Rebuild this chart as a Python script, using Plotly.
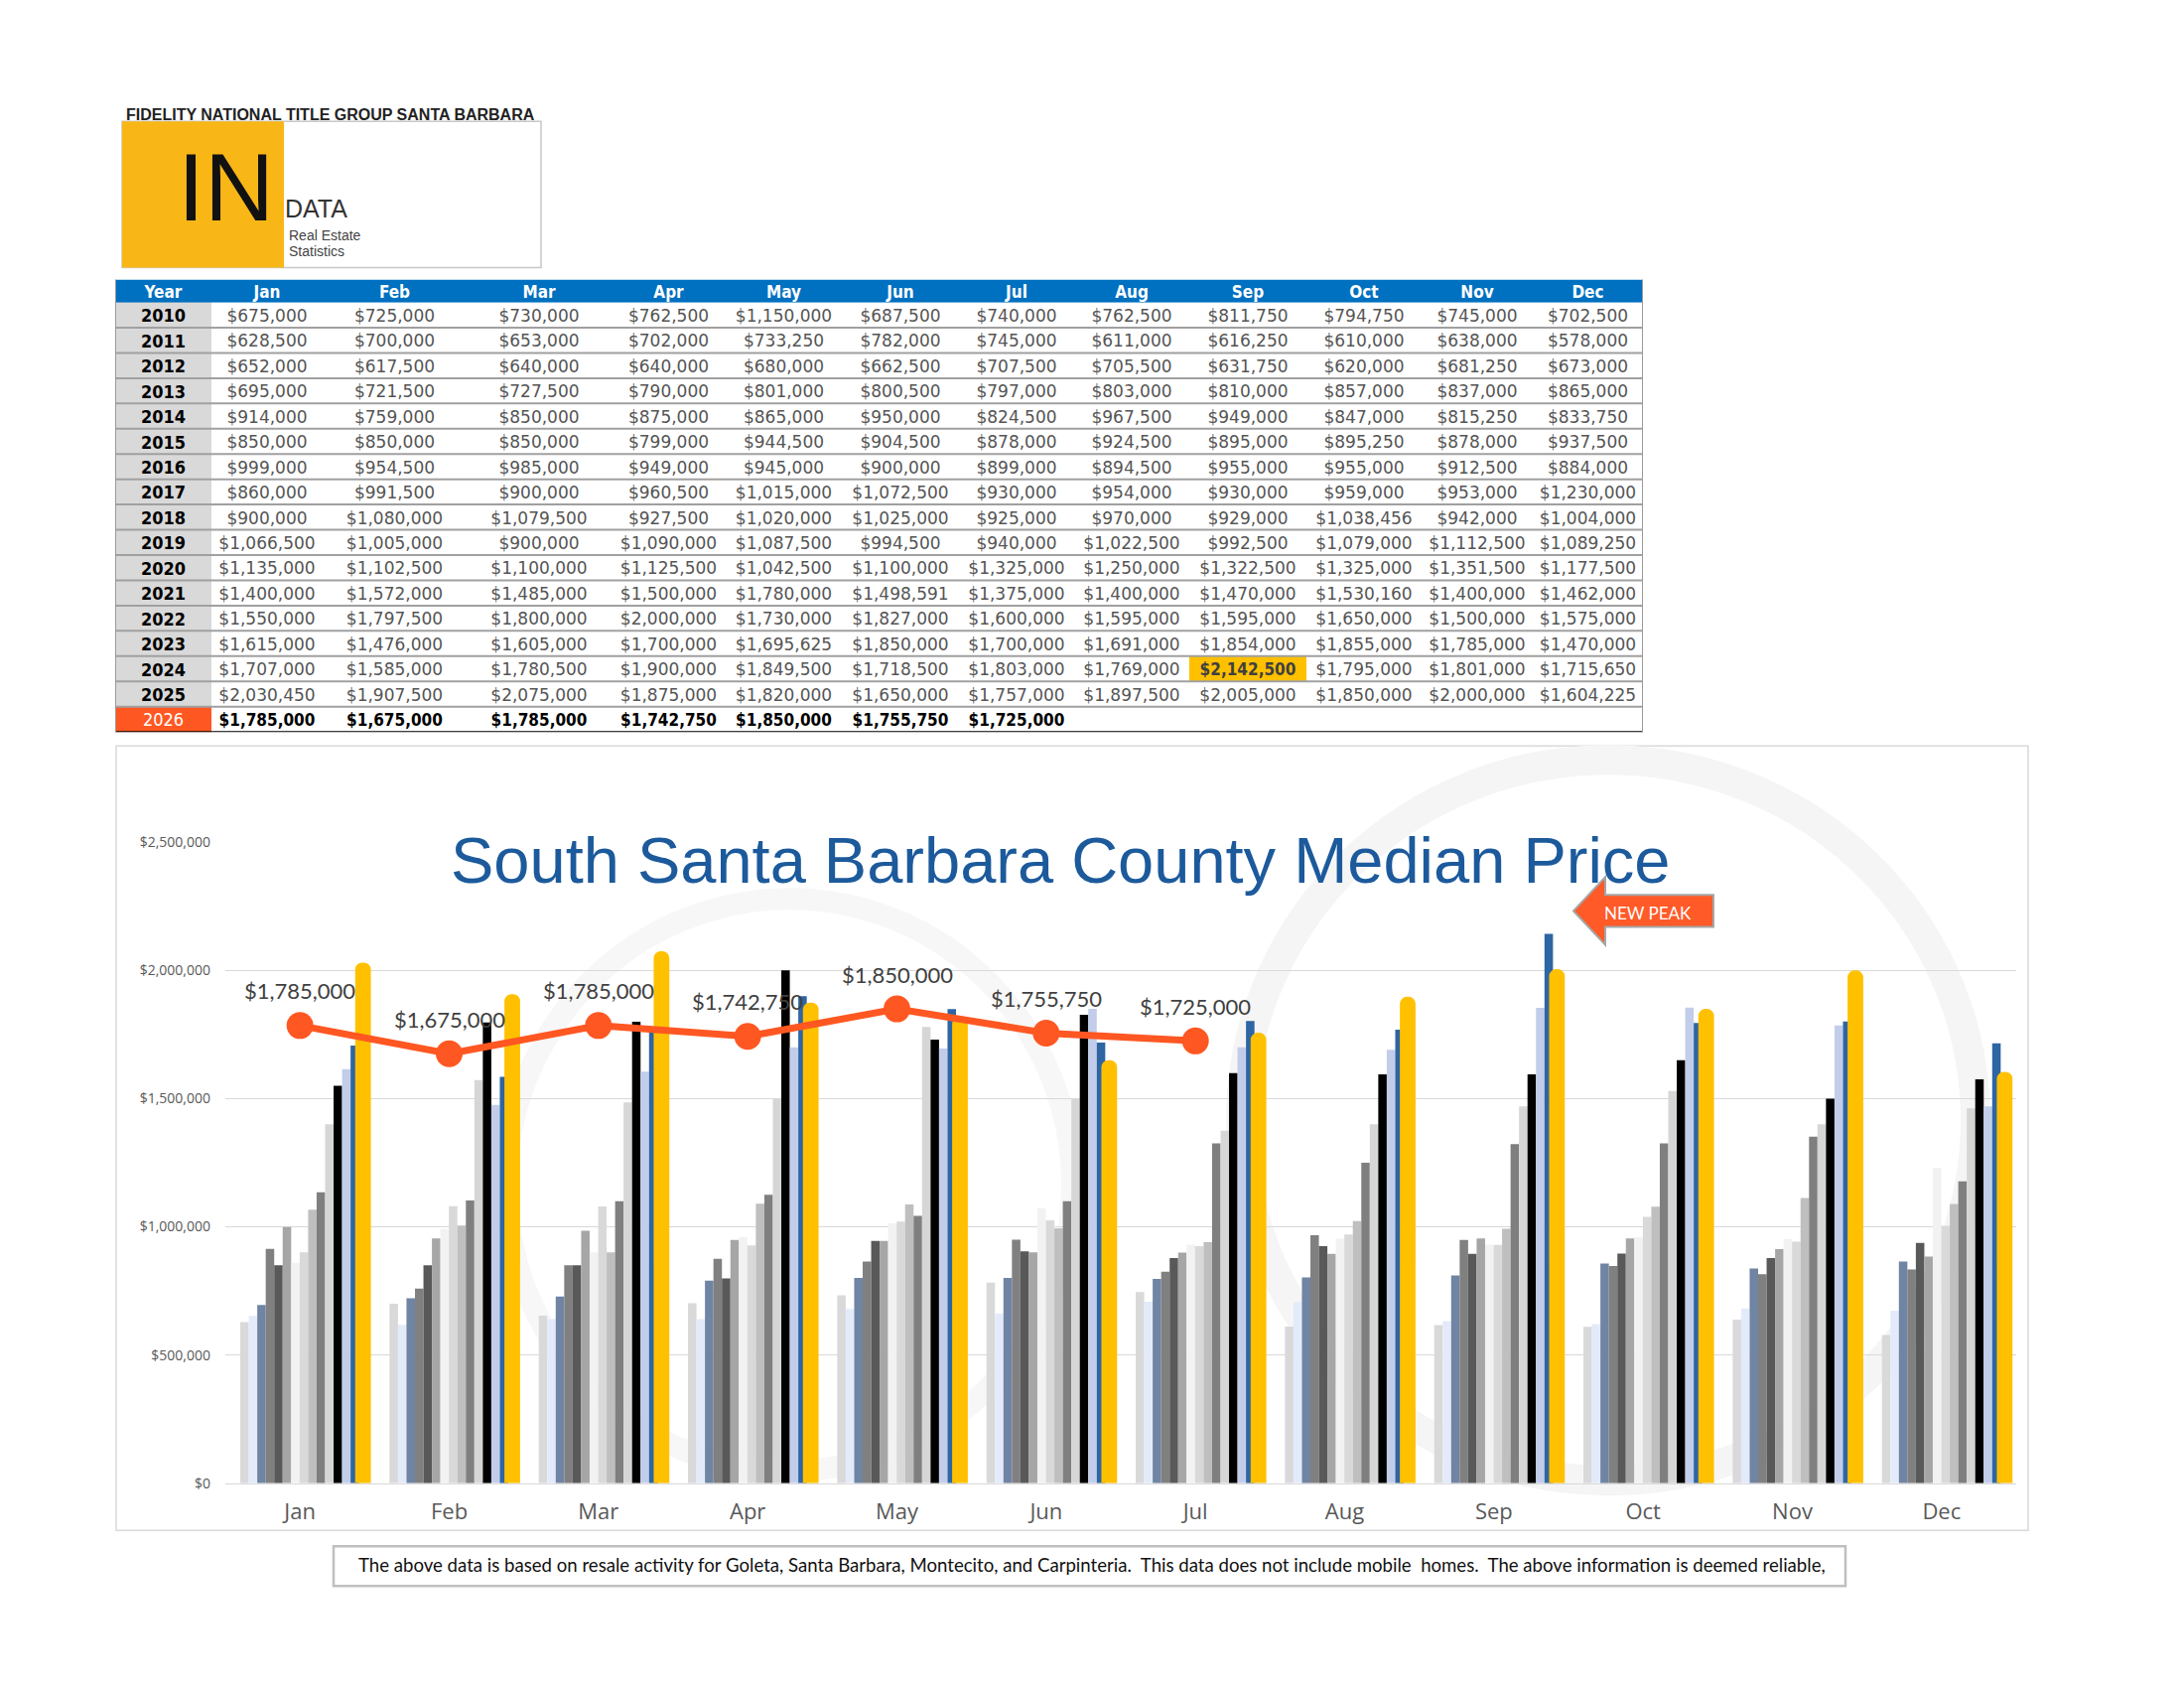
import plotly.graph_objects as go

W, H = 2200, 1700

months = ["Jan", "Feb", "Mar", "Apr", "May", "Jun", "Jul", "Aug", "Sep", "Oct", "Nov", "Dec"]
years = list(range(2010, 2027))

p2010 = [675000, 725000, 730000, 762500, 1150000, 687500, 740000, 762500, 811750, 794750, 745000, 702500]
p2011 = [628500, 700000, 653000, 702000, 733250, 782000, 745000, 611000, 616250, 610000, 638000, 578000]
p2012 = [652000, 617500, 640000, 640000, 680000, 662500, 707500, 705500, 631750, 620000, 681250, 673000]
p2013 = [695000, 721500, 727500, 790000, 801000, 800500, 797000, 803000, 810000, 857000, 837000, 865000]
p2014 = [914000, 759000, 850000, 875000, 865000, 950000, 824500, 967500, 949000, 847000, 815250, 833750]
p2015 = [850000, 850000, 850000, 799000, 944500, 904500, 878000, 924500, 895000, 895250, 878000, 937500]
p2016 = [999000, 954500, 985000, 949000, 945000, 900000, 899000, 894500, 955000, 955000, 912500, 884000]
p2017 = [860000, 991500, 900000, 960500, 1015000, 1072500, 930000, 954000, 930000, 959000, 953000, 1230000]
p2018 = [900000, 1080000, 1079500, 927500, 1020000, 1025000, 925000, 970000, 929000, 1038456, 942000, 1004000]
p2019 = [1066500, 1005000, 900000, 1090000, 1087500, 994500, 940000, 1022500, 992500, 1079000, 1112500, 1089250]
p2020 = [1135000, 1102500, 1100000, 1125500, 1042500, 1100000, 1325000, 1250000, 1322500, 1325000, 1351500, 1177500]
p2021 = [1400000, 1572000, 1485000, 1500000, 1780000, 1498591, 1375000, 1400000, 1470000, 1530160, 1400000, 1462000]
p2022 = [1550000, 1797500, 1800000, 2000000, 1730000, 1827000, 1600000, 1595000, 1595000, 1650000, 1500000, 1575000]
p2023 = [1615000, 1476000, 1605000, 1700000, 1695625, 1850000, 1700000, 1691000, 1854000, 1855000, 1785000, 1470000]
p2024 = [1707000, 1585000, 1780500, 1900000, 1849500, 1718500, 1803000, 1769000, 2142500, 1795000, 1801000, 1715650]
p2025 = [2030450, 1907500, 2075000, 1875000, 1820000, 1650000, 1757000, 1897500, 2005000, 1850000, 2000000, 1604225]
p2026 = [1785000, 1675000, 1785000, 1742750, 1850000, 1755750, 1725000]

table_rows = [p2010, p2011, p2012, p2013, p2014, p2015, p2016, p2017, p2018,
              p2019, p2020, p2021, p2022, p2023, p2024, p2025, p2026]
bar_years = [2011, 2012, 2013, 2014, 2015, 2016, 2017, 2018, 2019, 2020, 2021, 2022, 2023, 2024]
bar_series = [p2011, p2012, p2013, p2014, p2015, p2016, p2017, p2018, p2019,
              p2020, p2021, p2022, p2023, p2024]
bar_colors = ["#D9D9D9", "#E3EBFA", "#7084A3", "#808080", "#595959", "#A6A6A6", "#F2F2F2",
              "#D9D9D9", "#BFBFBF", "#7F7F7F", "#D6D6D6", "#000000", "#C2CDEA", "#2E65A3"]
highlight = (2024, "Sep")

header_labels = ["Year"] + months
col_widths = [97, 112, 145, 146, 115, 117, 118, 116, 116, 118, 116, 112, 111]


def fx(px):
    return px / W


def fy(py):
    q = 1.0127 * py - 11.0
    return 1 - q / H


def money(v):
    return "${:,.0f}".format(v)


fig = go.Figure()

# ---------------- chart bars ----------------
pitch = 8.55 / 150.4
start = -0.40
for k, (yr, vals, col) in enumerate(zip(bar_years, bar_series, bar_colors)):
    fig.add_trace(go.Bar(
        x=months, y=vals, name=str(yr), offset=start + k * pitch, width=pitch,
        marker=dict(color=col, line=dict(width=0)), hoverinfo="skip",
        xaxis="x", yaxis="y"))

fig.add_trace(go.Bar(
    x=months, y=p2025, name="2025", offset=0.37, width=0.105,
    marker=dict(color="#FFC000", line=dict(width=0), cornerradius=7), hoverinfo="skip",
    xaxis="x", yaxis="y"))

fig.add_trace(go.Scatter(
    x=months[:len(p2026)], y=p2026, name="2026", mode="lines+markers",
    line=dict(color="#FF5722", width=7),
    marker=dict(color="#FF5722", size=27),
    hoverinfo="skip", xaxis="x", yaxis="y"))

for m, v in zip(months, p2026):
    fig.add_annotation(x=m, y=v, xref="x", yref="y", text=money(v), showarrow=False,
                       yshift=35, font=dict(family="Lato, Carlito, sans-serif", size=22, color="#404040"))

# ---------------- data table ----------------
edges_x = [0]
for w_ in col_widths:
    edges_x.append(edges_x[-1] + w_)
header_h, row_h = 23, 25.4
edges_y = [0, header_h]
for _ in years:
    edges_y.append(edges_y[-1] + row_h)

text_drop = 2.5
z = [[2] * len(header_labels)]
cell_x, cell_y, cell_t, cell_c, cell_f, cell_s = [], [], [], [], [], []
cx = [(edges_x[i] + edges_x[i + 1]) / 2 for i in range(len(col_widths))]
cy = [(edges_y[i] + edges_y[i + 1]) / 2 + text_drop for i in range(len(edges_y) - 1)]
COND = "DejaVu Sans Condensed, DejaVu Sans"

for c, lab in enumerate(header_labels):
    cell_x.append(cx[c]); cell_y.append(cy[0]); cell_t.append("<b>" + lab + "</b>")
    cell_c.append("white"); cell_f.append(COND); cell_s.append(17)

last = years[-1]
for r, (yr, vals) in enumerate(zip(years, table_rows), start=1):
    zrow = [3 if yr == last else 1]
    cell_x.append(cx[0]); cell_y.append(cy[r])
    if yr == last:
        cell_t.append(str(yr)); cell_c.append("white")
    else:
        cell_t.append("<b>" + str(yr) + "</b>"); cell_c.append("#000000")
    cell_f.append(COND); cell_s.append(18)
    for c, m in enumerate(months, start=1):
        hl = (yr, m) == highlight
        zrow.append(4 if hl else 0)
        if c - 1 < len(vals):
            cell_x.append(cx[c]); cell_y.append(cy[r])
            if yr == last:
                cell_t.append("<b>" + money(vals[c - 1]) + "</b>"); cell_c.append("#000000")
                cell_f.append(COND)
            elif hl:
                cell_t.append("<b>" + money(vals[c - 1]) + "</b>"); cell_c.append("#404040")
                cell_f.append(COND)
            else:
                cell_t.append(money(vals[c - 1])); cell_c.append("#555555")
                cell_f.append("DejaVu Sans")
            cell_s.append(17)
    z.append(zrow)

fig.add_trace(go.Heatmap(
    z=z, x=edges_x, y=edges_y, zmin=0, zmax=4, showscale=False, hoverinfo="skip",
    colorscale=[[0, "#FFFFFF"], [0.125, "#FFFFFF"], [0.125, "#D9D9D9"], [0.375, "#D9D9D9"],
                [0.375, "#0070C0"], [0.625, "#0070C0"], [0.625, "#FF5722"], [0.875, "#FF5722"],
                [0.875, "#FFC000"], [1, "#FFC000"]],
    xaxis="x2", yaxis="y2"))

fig.add_trace(go.Scatter(
    x=cell_x, y=cell_y, text=cell_t, mode="text", textposition="middle center",
    textfont=dict(color=cell_c, family=cell_f, size=cell_s), hoverinfo="skip",
    xaxis="x2", yaxis="y2"))

shapes = []
for k in range(2, len(edges_y) - 1):
    shapes.append(dict(type="line", xref="x2", yref="y2", x0=0, x1=edges_x[-1], y0=edges_y[k], y1=edges_y[k],
                       line=dict(color="#A0A0A0", width=2), layer="above"))
shapes.append(dict(type="line", xref="x2", yref="y2", x0=0, x1=edges_x[-1], y0=edges_y[-1], y1=edges_y[-1],
                   line=dict(color="#000000", width=2), layer="above"))
for xe in (0, edges_x[-1]):
    shapes.append(dict(type="line", xref="x2", yref="y2", x0=xe, x1=xe, y0=0, y1=edges_y[-1],
                       line=dict(color="#9A9A9A", width=2), layer="above"))

# ---------------- decorations ----------------
# chart frame
shapes.append(dict(type="rect", xref="paper", yref="paper", x0=fx(117), x1=fx(2043), y0=fy(1540), y1=fy(751),
                   line=dict(color="#D9D9D9", width=1.5), layer="below"))
# faint watermark rings
shapes.append(dict(type="circle", xref="paper", yref="paper", x0=fx(1250), x1=fx(1990), y0=fy(1490), y1=fy(765),
                   line=dict(color="#F5F5F5", width=30), layer="below"))
shapes.append(dict(type="circle", xref="paper", yref="paper", x0=fx(510), x1=fx(1080), y0=fy(1480), y1=fy(905),
                   line=dict(color="#F7F7F7", width=22), layer="below"))
# logo
shapes.append(dict(type="rect", xref="paper", yref="paper", x0=fx(123), x1=fx(545), y0=fy(270), y1=fy(123),
                   line=dict(color="#C8C8C8", width=1.5), fillcolor="white", layer="below"))
shapes.append(dict(type="rect", xref="paper", yref="paper", x0=fx(123), x1=fx(286), y0=fy(270), y1=fy(123),
                   line=dict(width=0), fillcolor="#F8B717", layer="below"))
# NEW PEAK arrow
pts = [(1585, 917), (1617, 883), (1617, 901), (1726, 901), (1726, 933), (1617, 933), (1617, 951)]
path = "M " + " L ".join("{:.5f},{:.5f}".format(fx(a), fy(b)) for a, b in pts) + " Z"
shapes.append(dict(type="path", xref="paper", yref="paper", path=path, fillcolor="#FF5A28",
                   line=dict(color="#A6A6A6", width=2), layer="above"))
# footer box
shapes.append(dict(type="rect", xref="paper", yref="paper", x0=fx(336), x1=fx(1859), y0=fy(1596), y1=fy(1556),
                   line=dict(color="#BFBFBF", width=2.5), layer="below"))

ann = [
    dict(x=fx(125), y=fy(116), xanchor="left", yanchor="middle", text="<b>FIDELITY NATIONAL TITLE GROUP SANTA BARBARA</b>",
         font=dict(family="Liberation Sans, Arial", size=16, color="#222222")),
    dict(x=fx(177), y=fy(189), xanchor="left", yanchor="middle", text="IN",
         font=dict(family="Liberation Sans, Arial", size=97, color="#111111")),
    dict(x=fx(285), y=fy(211), xanchor="left", yanchor="middle", text="DATA",
         font=dict(family="Liberation Sans, Arial", size=25, color="#333333")),
    dict(x=fx(289), y=fy(238), xanchor="left", yanchor="middle", text="Real Estate",
         font=dict(family="Liberation Sans, Arial", size=14, color="#444444")),
    dict(x=fx(289), y=fy(254), xanchor="left", yanchor="middle", text="Statistics",
         font=dict(family="Liberation Sans, Arial", size=14, color="#444444")),
    dict(x=fx(1068), y=fy(866), xanchor="center", yanchor="middle", text="South Santa Barbara County Median Price",
         font=dict(family="Liberation Sans, Arial", size=65, color="#1C5A9C")),
    dict(x=fx(1660), y=fy(919), xanchor="center", yanchor="middle", text="NEW PEAK",
         font=dict(family="Lato, sans-serif", size=17, color="white")),
    dict(x=fx(1100), y=fy(1575), xanchor="center", yanchor="middle",
         text="The above data is based on resale activity for Goleta, Santa Barbara, Montecito, and Carpinteria.  This data does not include mobile  homes.  The above information is deemed reliable,",
         font=dict(family="Lato, sans-serif", size=18.6, color="#111111")),
]
for a in ann:
    a.update(xref="paper", yref="paper", showarrow=False)
    fig.add_annotation(**a)

fig.update_layout(
    width=W, height=H, autosize=False,
    margin=dict(l=0, r=0, t=0, b=0),
    paper_bgcolor="white", plot_bgcolor="rgba(0,0,0,0)",
    showlegend=False, barmode="overlay",
    shapes=shapes,
    xaxis=dict(domain=[fx(227), fx(2031)], type="category", categoryorder="array", categoryarray=months,
               range=[-0.5, 11.5], showgrid=False, zeroline=False, showline=True, linecolor="#D9D9D9",
               linewidth=1, ticks="", ticklabelstandoff=9,
               tickfont=dict(family="Open Sans, sans-serif", size=22, color="#595959"), fixedrange=True),
    yaxis=dict(domain=[fy(1492.5), fy(848)], range=[0, 2500000], dtick=500000, tickformat="$,.0f",
               showgrid=True, gridcolor="#D9D9D9", gridwidth=1, zeroline=False, showline=False, ticks="",
               ticklabelstandoff=14,
               tickfont=dict(family="Open Sans, sans-serif", size=14, color="#595959"), fixedrange=True),
    xaxis2=dict(domain=[fx(116), fx(1655)], range=[0, edges_x[-1]], visible=False, fixedrange=True),
    yaxis2=dict(domain=[fy(737), fy(282)], range=[edges_y[-1], 0], visible=False, fixedrange=True),
)

fig.write_html("out.html", config={"displayModeBar": False},
               post_script="document.body.style.margin='0';")
